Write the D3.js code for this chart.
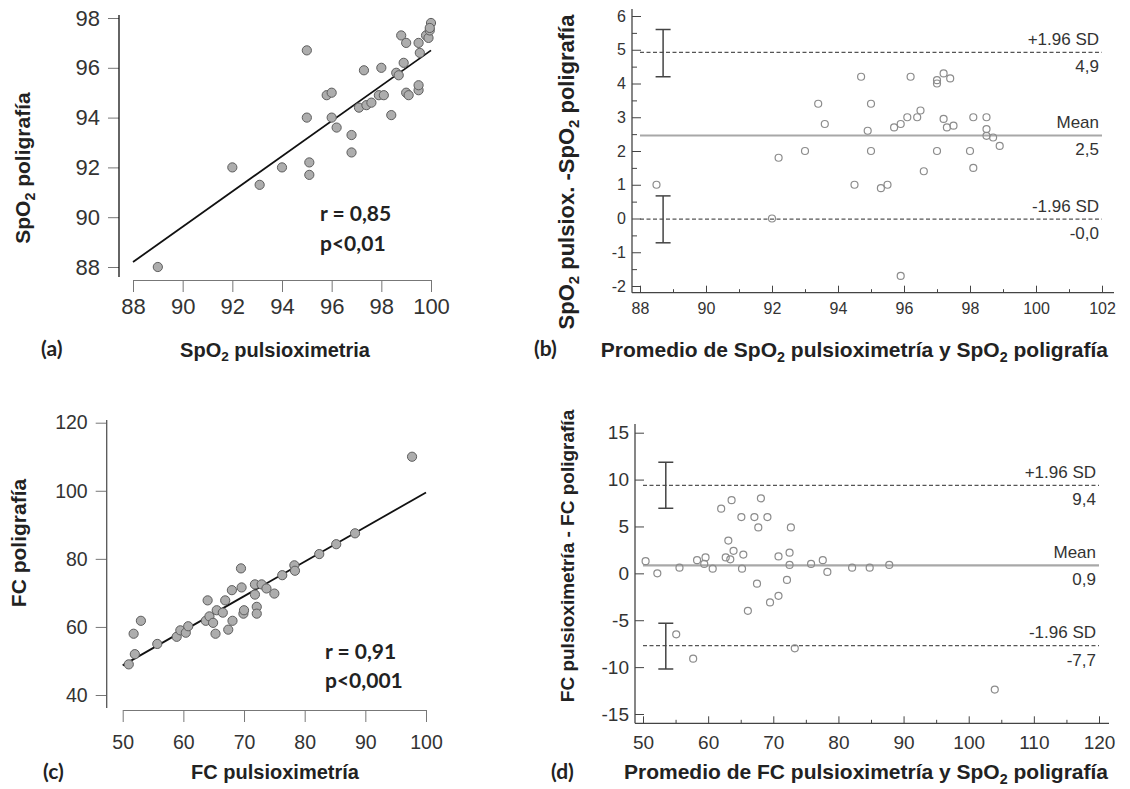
<!DOCTYPE html>
<html>
<head>
<meta charset="utf-8">
<script src="https://cdn.jsdelivr.net/npm/d3@7"></script>
<style>
  body { margin: 0; background: #fff; }
  svg { display: block; }
  text { font-family: "Liberation Sans", Arial, sans-serif; }
  .title { font-weight: bold; fill: #222; }
  .stat { font-family: Lato, "Open Sans", sans-serif; font-weight: bold; fill: #222; }
</style>
</head>
<body>
<svg id="fig" width="1130" height="789"></svg>
<script>
// (a) SpO2 pulsioximetria vs SpO2 poligrafia
const aPulsi = [89, 92, 93.1, 94, 95, 95, 95.1, 95.1, 95.8, 96, 96, 96.2, 96.8, 96.8, 97.1, 97.3, 97.4, 97.6, 97.9,
  98, 98.1, 98.4, 98.6, 98.7, 98.8, 98.9, 99, 99, 99.1, 99.5, 99.5, 99.5, 99.55, 99.8, 99.9, 99.95, 100, 99.95];
const aPoli = [88, 92, 91.3, 92, 96.7, 94, 92.2, 91.7, 94.9, 95, 94, 93.6, 93.3, 92.6, 94.4, 95.9, 94.5, 94.6, 94.9,
  96, 94.9, 94.1, 95.8, 95.7, 97.3, 96.2, 97, 95, 94.9, 95.1, 95.3, 97, 96.6, 97.3, 97.2, 97.5, 97.8, 97.6];
const aFitX = [88, 100];
const aFitY = [88.2, 96.7];
const aXTicks = [88, 90, 92, 94, 96, 98, 100];
const aYTicks = [88, 90, 92, 94, 96, 98];
const aStats = ['r = 0,85', 'p<0,01'];

// (b) Bland-Altman SpO2
const bMean = [88.5, 92.0, 92.2, 93.0, 93.4, 93.6, 94.5, 94.7, 94.9, 95.0, 95.0, 95.3, 95.5, 95.7, 95.9, 95.9, 96.1,
  96.2, 96.4, 96.5, 96.6, 97.0, 97.0, 97.0, 97.2, 97.2, 97.3, 97.4, 97.5, 98.0, 98.1, 98.1, 98.5, 98.5, 98.5, 98.7, 98.9];
const bDiff = [1.0, 0.0, 1.8, 2.0, 3.4, 2.8, 1.0, 4.2, 2.6, 3.4, 2.0, 0.9, 1.0, 2.7, 2.8, -1.7, 3.0,
  4.2, 3.0, 3.2, 1.4, 4.1, 4.0, 2.0, 2.95, 4.3, 2.7, 4.15, 2.75, 2.0, 3.0, 1.5, 3.0, 2.65, 2.45, 2.4, 2.15];
const bLimits = [4.92, 2.46, -0.02];           // +1.96 SD, mean, -1.96 SD
const bLimitNames = ['+1.96 SD', 'Mean', '-1.96 SD'];
const bCIUpper = [4.2, 5.6];
const bCILower = [-0.72, 0.67];
const bCIAt = 88.7;
const bXTicks = [88, 90, 92, 94, 96, 98, 100, 102];
const bXMinor = [89, 91, 93, 95, 97, 99, 101];
const bYTicks = [-2, -1, 0, 1, 2, 3, 4, 5, 6];
const bYMinor = [-1.5, -0.5, 0.5, 1.5, 2.5, 3.5, 4.5, 5.5];

// (c) FC pulsioximetria vs FC poligrafia
const cPulsi = [51, 52, 51.8, 53, 55.7, 58.9, 59.5, 60.4, 60.8, 63.7, 64, 64.3, 64.9, 65.3, 65.5, 66.5, 66.9, 67.4, 68.1,
  68, 69.5, 69.6, 69.9, 70, 71.8, 71.8, 72.1, 72.1, 72.9, 73.7, 75, 76.3, 78.3, 78.4, 82.4, 85.2, 88.3, 97.7];
const cPoli = [49, 52, 58, 61.8, 55, 57.1, 59, 58.3, 60.2, 61.8, 67.8, 63.1, 61.2, 58, 64.9, 64.2, 67.8, 59.2, 61.8,
  70.8, 77.2, 71.6, 63.9, 64.9, 72.5, 69.5, 65.9, 63.9, 72.5, 71.3, 69.8, 75.2, 78.1, 76.5, 81.4, 84.3, 87.5, 110];
const cFitX = [50, 100];
const cFitY = [48.7, 99.5];
const cXTicks = [50, 60, 70, 80, 90, 100];
const cYTicks = [40, 60, 80, 100, 120];
const cStats = ['r = 0,91', 'p<0,001'];

// (d) Bland-Altman FC
const dMean = [50.4, 52.2, 55.6, 55.1, 57.7, 58.3, 59.4, 59.6, 60.7, 62.0, 62.7, 63.1, 63.4, 63.6, 63.9, 65.1, 65.4, 65.2,
  66.1, 67.1, 67.5, 67.7, 68.1, 69.1, 69.5, 70.8, 70.8, 72.1, 72.5, 72.5, 72.7, 73.3, 75.8, 77.6, 78.3, 82.1, 84.8, 87.8, 104];
const dDiff = [1.3, 0, 0.6, -6.5, -9.1, 1.4, 1.0, 1.7, 0.5, 6.9, 1.7, 3.5, 1.5, 7.8, 2.4, 6.0, 2.0, 0.5,
  -4.0, 6.0, -1.1, 4.9, 8.0, 6.0, -3.1, 1.8, -2.4, -0.7, 2.2, 0.9, 4.9, -8.0, 1.0, 1.4, 0.15, 0.6, 0.6, 0.9, -12.4];
const dLimits = [9.39, 0.86, -7.71];
const dLimitNames = ['+1.96 SD', 'Mean', '-1.96 SD'];
const dCIUpper = [6.94, 11.85];
const dCILower = [-10.2, -5.32];
const dCIAt = 53.5;
const dXTicks = [50, 60, 70, 80, 90, 100, 110, 120];
const dXMinor = [55, 65, 75, 85, 95, 105, 115];
const dYTicks = [-15, -10, -5, 0, 5, 10, 15];

const svg = d3.select('#fig');
const fmt1 = v => v.toFixed(1).replace('.', ',');
const plain = d => String(d);

// text with SpO2 subscript
function rich(sel, str, size) {
  let shift = 0;
  str.split(/(SpO2)/).filter(Boolean).forEach(p => {
    if (p === 'SpO2') {
      sel.append('tspan').attr('dy', shift || null).text('SpO');
      sel.append('tspan').attr('font-size', size * 0.68).attr('dy', size * 0.22).text('2');
      shift = -size * 0.22;
    } else {
      sel.append('tspan').attr('dy', shift || null).text(p);
      shift = 0;
    }
  });
}

function title(x, y, str, size, rotate, anchor = 'middle') {
  const t = svg.append('text')
    .attr('class', 'title')
    .attr('font-size', size)
    .attr('text-anchor', anchor)
    .attr('transform', `translate(${x},${y})` + (rotate ? ' rotate(-90)' : ''));
  rich(t, str, size);
}

function letter(x, y, s) {
  svg.append('text').attr('class', 'stat').attr('x', x).attr('y', y)
    .attr('font-size', 21).text(s);
}

// ---------- correlation panels ----------
function scatterPanel(o) {
  const g = svg.append('g');
  const { x, y } = o;

  const ya = g.append('g')
    .attr('transform', `translate(${o.yAxisX},0)`)
    .call(d3.axisLeft(y).tickValues(o.yTicks).tickFormat(plain).tickSize(11).tickPadding(8).tickSizeOuter(0));
  ya.select('.domain').remove();
  ya.selectAll('.tick line').attr('stroke', '#777');
  ya.selectAll('.tick text').attr('font-size', o.tickFont).attr('fill', '#333');
  g.append('line')
    .attr('x1', o.yAxisX).attr('x2', o.yAxisX)
    .attr('y1', o.yLine[0]).attr('y2', o.yLine[1])
    .attr('stroke', o.yAxisColor).attr('stroke-width', 1.3);

  const xa = g.append('g')
    .attr('transform', `translate(0,${o.xAxisY})`)
    .call(d3.axisBottom(x).tickValues(o.xTicks).tickFormat(plain).tickSize(12).tickSizeOuter(0));
  xa.select('.domain').attr('stroke', '#777');
  xa.selectAll('.tick line').attr('stroke', '#777');
  xa.selectAll('.tick text').attr('font-size', o.tickFont).attr('fill', '#333')
    .attr('y', o.xLabelY - o.xAxisY).attr('dy', '0.35em');

  const line = d3.line().x(d => x(d[0])).y(d => y(d[1]));
  g.append('path')
    .datum(d3.zip(o.fitX, o.fitY))
    .attr('d', line)
    .attr('fill', 'none').attr('stroke', '#111').attr('stroke-width', 1.8);

  g.selectAll('circle.pt')
    .data(d3.zip(o.xs, o.ys))
    .join('circle')
    .attr('class', 'pt')
    .attr('cx', d => x(d[0])).attr('cy', d => y(d[1]))
    .attr('r', 4.6)
    .attr('fill', '#adadad').attr('stroke', '#5e5e5e').attr('stroke-width', 1);

  o.stats.forEach((s, i) => {
    g.append('text').attr('class', 'stat')
      .attr('x', o.statX).attr('y', o.statY + i * o.statGap)
      .attr('font-size', 21).text(s);
  });
}

// ---------- Bland-Altman panels ----------
function baPanel(o) {
  const g = svg.append('g');
  const { x, y } = o;
  const x0 = x.domain()[0], x1 = x.domain()[1];

  const ya = g.append('g')
    .attr('transform', `translate(${o.yAxisX},0)`)
    .call(d3.axisLeft(y).tickValues(o.yTicks).tickFormat(plain).tickSize(-9).tickPadding(6).tickSizeOuter(0));
  ya.select('.domain').remove();
  ya.selectAll('.tick line').attr('stroke', '#444');
  ya.selectAll('.tick text').attr('font-size', o.tickFont).attr('fill', '#333');
  if (o.yMinor) {
    const ym = g.append('g')
      .attr('transform', `translate(${o.yAxisX},0)`)
      .call(d3.axisLeft(y).tickValues(o.yMinor).tickSize(-5).tickFormat(''));
    ym.select('.domain').remove();
    ym.selectAll('.tick line').attr('stroke', '#444');
  }

  const xa = g.append('g')
    .attr('transform', `translate(0,${o.xAxisY})`)
    .call(d3.axisBottom(x).tickValues(o.xTicks).tickFormat(plain).tickSize(-7).tickPadding(6).tickSizeOuter(0));
  xa.select('.domain').remove();
  xa.selectAll('.tick line').attr('stroke', '#444');
  xa.selectAll('.tick text').attr('font-size', o.tickFont).attr('fill', '#333')
    .attr('y', o.xLabelY - o.xAxisY).attr('dy', '0.35em');
  const xm = g.append('g')
    .attr('transform', `translate(0,${o.xAxisY})`)
    .call(d3.axisBottom(x).tickValues(o.xMinor).tickSize(-3.5).tickFormat(''));
  xm.select('.domain').remove();
  xm.selectAll('.tick line').attr('stroke', '#444');

  g.append('line')
    .attr('x1', o.yAxisX).attr('x2', o.yAxisX)
    .attr('y1', o.yTop).attr('y2', o.xAxisY)
    .attr('stroke', '#444').attr('stroke-width', 1.3);
  g.append('line')
    .attr('x1', o.yAxisX).attr('x2', o.xEnd)
    .attr('y1', o.xAxisY).attr('y2', o.xAxisY)
    .attr('stroke', '#444').attr('stroke-width', 1.3);

  // limits of agreement and mean
  o.limits.forEach((v, i) => {
    const isMean = i === 1;
    g.append('line')
      .attr('x1', x(x0)).attr('x2', x(x1))
      .attr('y1', y(v)).attr('y2', y(v))
      .attr('stroke', isMean ? '#a8a8a8' : '#555')
      .attr('stroke-width', isMean ? 2.2 : 1.2)
      .attr('stroke-dasharray', isMean ? null : '4,2.5');
    g.append('text')
      .attr('x', x(x1) - 3).attr('y', y(v) - 7.5)
      .attr('text-anchor', 'end').attr('font-size', o.limFont).attr('fill', '#333')
      .text(o.limitNames[i]);
    g.append('text')
      .attr('x', x(x1) - 3).attr('y', y(v) + 20)
      .attr('text-anchor', 'end').attr('font-size', o.limFont).attr('fill', '#333')
      .text(fmt1(v));
  });

  // confidence interval bars
  [o.ciUpper, o.ciLower].forEach(ci => {
    const cx = x(o.ciAt);
    g.append('line').attr('x1', cx).attr('x2', cx)
      .attr('y1', y(ci[0])).attr('y2', y(ci[1]))
      .attr('stroke', '#444').attr('stroke-width', 1.5);
    ci.forEach(v => {
      g.append('line').attr('x1', cx - 7.5).attr('x2', cx + 7.5)
        .attr('y1', y(v)).attr('y2', y(v))
        .attr('stroke', '#444').attr('stroke-width', 1.5);
    });
  });

  g.selectAll('circle.pt')
    .data(d3.zip(o.xs, o.ys))
    .join('circle')
    .attr('class', 'pt')
    .attr('cx', d => x(d[0])).attr('cy', d => y(d[1]))
    .attr('r', 3.5)
    .attr('fill', 'none').attr('stroke', '#8c8c8c').attr('stroke-width', 1.2);
}

scatterPanel({
  x: d3.scaleLinear().domain([88, 100]).range([133, 431]),
  y: d3.scaleLinear().domain([88, 98]).range([267, 18]),
  xs: aPulsi, ys: aPoli, fitX: aFitX, fitY: aFitY,
  xTicks: aXTicks, yTicks: aYTicks, tickFont: 22,
  yAxisX: 119, yLine: [15, 277], yAxisColor: '#111',
  xAxisY: 280, xLabelY: 306,
  stats: aStats, statX: 320, statY: 221, statGap: 30
});

scatterPanel({
  x: d3.scaleLinear().domain([50, 100]).range([122.7, 426]),
  y: d3.scaleLinear().domain([40, 120]).range([695, 422.7]),
  xs: cPulsi, ys: cPoli, fitX: cFitX, fitY: cFitY,
  xTicks: cXTicks, yTicks: cYTicks, tickFont: 19.5,
  yAxisX: 106.7, yLine: [420, 708], yAxisColor: '#555',
  xAxisY: 710, xLabelY: 742,
  stats: cStats, statX: 325, statY: 659, statGap: 29
});

baPanel({
  x: d3.scaleLinear().domain([88, 102]).range([640, 1102]),
  y: d3.scaleLinear().domain([-2, 6]).range([286, 16]),
  xs: bMean, ys: bDiff, limits: bLimits, limitNames: bLimitNames,
  ciUpper: bCIUpper, ciLower: bCILower, ciAt: bCIAt,
  xTicks: bXTicks, xMinor: bXMinor, yTicks: bYTicks, yMinor: bYMinor,
  yAxisX: 632, yTop: 9, xAxisY: 292.7, xEnd: 1114, xLabelY: 308,
  tickFont: 16, limFont: 17
});

baPanel({
  x: d3.scaleLinear().domain([50, 120]).range([643, 1099]),
  y: d3.scaleLinear().domain([-15, 15]).range([714, 432.7]),
  xs: dMean, ys: dDiff, limits: dLimits, limitNames: dLimitNames,
  ciUpper: dCIUpper, ciLower: dCILower, ciAt: dCIAt,
  xTicks: dXTicks, xMinor: dXMinor, yTicks: dYTicks, yMinor: null,
  yAxisX: 635, yTop: 424, xAxisY: 723.3, xEnd: 1109, xLabelY: 742,
  tickFont: 19, limFont: 17
});

// axis titles and panel letters
title(275, 357, 'SpO2 pulsioximetria', 20, false);
title(30, 168, 'SpO2 poligrafía', 21, true);
letter(41, 356, '(a)');

title(1108, 357, 'Promedio de SpO2 pulsioximetría y SpO2 poligrafía', 21, false, 'end');
title(574, 172, 'SpO2 pulsiox. -SpO2 poligrafía', 22, true);
letter(534, 356, '(b)');

title(275, 779, 'FC pulsioximetría', 20, false);
title(26, 543, 'FC poligrafía', 21, true);
letter(43, 779, '(c)');

title(1108, 779, 'Promedio de FC pulsioximetría y SpO2 poligrafía', 21, false, 'end');
title(574, 556, 'FC pulsioximetría - FC poligrafía', 19, true);
letter(551, 779, '(d)');
</script>
</body>
</html>
